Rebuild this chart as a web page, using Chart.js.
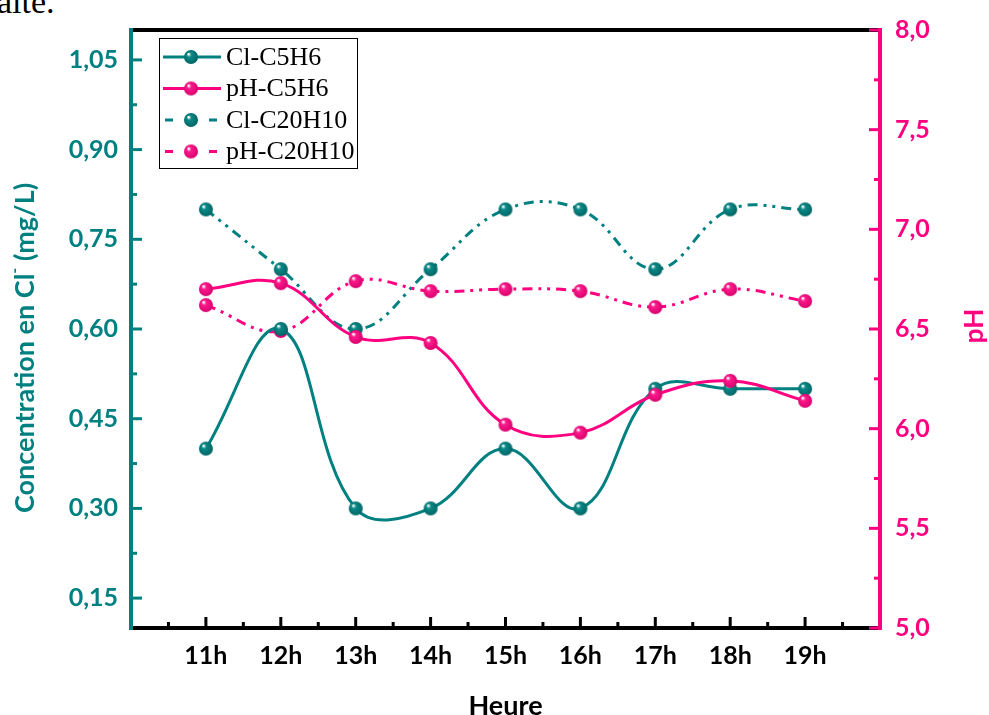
<!DOCTYPE html>
<html>
<head>
<meta charset="utf-8">
<script src="https://cdn.jsdelivr.net/npm/chart.js@4.4.1/dist/chart.umd.min.js"></script>
<style>
body { margin: 0; background: #fff; overflow: hidden; }
#wrap { position: relative; width: 989px; height: 715px; overflow: hidden; }
#cut { position: absolute; left: -3px; top: -17px; font: 34px "Liberation Serif", serif; color: #000; }
canvas { position: absolute; left: 0; top: 0; }
</style>
</head>
<body>
<div id="wrap">
<div id="cut">aite.</div>
<canvas id="chart" width="989" height="715"></canvas>
</div>
<script>
var hours = ['11h', '12h', '13h', '14h', '15h', '16h', '17h', '18h', '19h'];
var clC5H6 = [0.40, 0.60, 0.30, 0.30, 0.40, 0.30, 0.50, 0.50, 0.50];
var phC5H6 = [6.70, 6.73, 6.46, 6.43, 6.02, 5.98, 6.17, 6.24, 6.14];
var clC20H10 = [0.80, 0.70, 0.60, 0.70, 0.80, 0.80, 0.70, 0.80, 0.80];
var phC20H10 = [6.62, 6.49, 6.74, 6.69, 6.70, 6.69, 6.61, 6.70, 6.64];
var clTicks = [0.15, 0.30, 0.45, 0.60, 0.75, 0.90, 1.05];
var phTicks = [5.0, 5.5, 6.0, 6.5, 7.0, 7.5, 8.0];

var TEAL = '#008080';
var PINK = '#ff0080';
var FONT = 'Lato';
var dashDotDot = [10, 6, 3, 6, 3, 6];

// little shaded balls for the markers
function ball(color, dark) {
    var r = 7, c = document.createElement('canvas');
    c.width = c.height = 2 * r + 2;
    var g = c.getContext('2d');
    var grad = g.createRadialGradient(r - 1.5, r - 2, 0.5, r + 1, r + 1, r + 1);
    grad.addColorStop(0, '#ffffff');
    grad.addColorStop(0.25, color);
    grad.addColorStop(1, dark);
    g.fillStyle = grad;
    g.beginPath();
    g.arc(r + 1, r + 1, r, 0, Math.PI * 2);
    g.fill();
    return c;
}
var tealBall = ball('#0a8a88', '#006060');
var pinkBall = ball('#ff1a8c', '#d00068');

function pts(vals) {
    return vals.map(function (v, i) { return { x: i, y: v }; });
}
function fmt(v, d) {
    return v.toFixed(d).replace('.', ',');
}
function mids(arr) {
    var out = [];
    for (var i = 0; i < arr.length - 1; i++) out.push((arr[i] + arr[i + 1]) / 2);
    return out;
}

var series = [
    { label: 'Cl-C5H6', data: clC5H6, axis: 'yCl', color: TEAL, img: tealBall, dash: [], order: 2 },
    { label: 'pH-C5H6', data: phC5H6, axis: 'yPH', color: PINK, img: pinkBall, dash: [], order: 1 },
    { label: 'Cl-C20H10', data: clC20H10, axis: 'yCl', color: TEAL, img: tealBall, dash: dashDotDot, order: 4 },
    { label: 'pH-C20H10', data: phC20H10, axis: 'yPH', color: PINK, img: pinkBall, dash: dashDotDot, order: 3 }
];

function line(ctx, x1, y1, x2, y2, color, w) {
    ctx.strokeStyle = color;
    ctx.lineWidth = w;
    ctx.beginPath();
    ctx.moveTo(x1, y1);
    ctx.lineTo(x2, y2);
    ctx.stroke();
}

var frame = {
    id: 'frame',
    afterDraw: function (chart) {
        var ctx = chart.ctx, a = chart.chartArea;
        var sx = chart.scales.x, sc = chart.scales.yCl, sp = chart.scales.yPH;
        ctx.save();
        ctx.lineCap = 'butt';

        // top and bottom
        line(ctx, a.left, a.top, a.right, a.top, '#000', 4);
        line(ctx, a.left, a.bottom, a.right, a.bottom, '#000', 4);
        hours.forEach(function (h, i) {
            var px = sx.getPixelForValue(i);
            line(ctx, px, a.bottom, px, a.bottom - 11, '#000', 3);
        });
        for (var m = -0.5; m < hours.length; m++) {
            var mx = sx.getPixelForValue(m);
            line(ctx, mx, a.bottom, mx, a.bottom - 6, '#000', 3);
        }

        // left axis
        line(ctx, a.left, a.top - 2, a.left, a.bottom + 2, TEAL, 4);
        clTicks.forEach(function (v) {
            var py = sc.getPixelForValue(v);
            line(ctx, a.left, py, a.left + 11, py, TEAL, 3);
        });
        mids(clTicks).forEach(function (v) {
            var py = sc.getPixelForValue(v);
            line(ctx, a.left, py, a.left + 6, py, TEAL, 3);
        });

        // right axis
        line(ctx, a.right, a.top - 2, a.right, a.bottom + 2, PINK, 4);
        phTicks.forEach(function (v) {
            var py = sp.getPixelForValue(v);
            line(ctx, a.right, py, a.right - 11, py, PINK, 3);
        });
        mids(phTicks).forEach(function (v) {
            var py = sp.getPixelForValue(v);
            line(ctx, a.right, py, a.right - 6, py, PINK, 3);
        });

        // axis titles
        ctx.textBaseline = 'middle';
        ctx.font = 'bold 27px ' + FONT;
        ctx.fillStyle = '#000';
        ctx.textAlign = 'center';
        ctx.fillText('Heure', (a.left + a.right) / 2, 706);

        ctx.save();
        ctx.translate(975, 326);
        ctx.rotate(-Math.PI / 2);
        ctx.fillStyle = PINK;
        ctx.font = 'bold 26px ' + FONT;
        ctx.fillText('pH', 0, 0);
        ctx.restore();

        ctx.save();
        ctx.translate(25, 348);
        ctx.rotate(-Math.PI / 2);
        ctx.fillStyle = TEAL;
        ctx.textAlign = 'left';
        var p1 = 'Concentration en Cl', p2 = '-', p3 = ' (mg/L)';
        ctx.font = 'bold 27px ' + FONT;
        var w1 = ctx.measureText(p1).width, w3 = ctx.measureText(p3).width;
        ctx.font = 'bold 16px ' + FONT;
        var w2 = ctx.measureText(p2).width;
        var x0 = -(w1 + w2 + w3) / 2;
        ctx.font = 'bold 27px ' + FONT;
        ctx.fillText(p1, x0, 0);
        ctx.font = 'bold 16px ' + FONT;
        ctx.fillText(p2, x0 + w1, -10);
        ctx.font = 'bold 27px ' + FONT;
        ctx.fillText(p3, x0 + w1 + w2, 0);
        ctx.restore();

        // legend
        var lx = 159, ly = 38, lw = 198, lh = 130;
        ctx.fillStyle = '#fff';
        ctx.fillRect(lx, ly, lw, lh);
        ctx.strokeStyle = '#000';
        ctx.lineWidth = 1;
        ctx.strokeRect(lx + 0.5, ly + 0.5, lw, lh);
        ctx.font = '26px "Liberation Serif"';
        ctx.textAlign = 'left';
        series.forEach(function (s, i) {
            var yy = 57 + i * 31.5;
            ctx.save();
            ctx.setLineDash(s.dash.length ? [8, 14] : []);
            ctx.lineDashOffset = s.dash.length ? -2 : 0;
            line(ctx, 163, yy, 221, yy, s.color, 3);
            ctx.restore();
            ctx.drawImage(s.img, 191 - s.img.width / 2, yy - s.img.height / 2);
            ctx.fillStyle = '#000';
            ctx.fillText(s.label, 226, yy + 1);
        });
        ctx.restore();
    }
};

var tickFont = { family: FONT, weight: 'bold', size: 25 };

new Chart(document.getElementById('chart'), {
    type: 'line',
    data: {
        datasets: series.map(function (s) {
            return {
                label: s.label,
                data: pts(s.data),
                yAxisID: s.axis,
                borderColor: s.color,
                backgroundColor: s.color,
                borderWidth: 3,
                borderDash: s.dash,
                tension: 0.4,
                pointStyle: s.img,
                pointRadius: 7,
                order: s.order,
                fill: false
            };
        })
    },
    options: {
        responsive: false,
        animation: false,
        events: [],
        layout: { padding: { top: 25, left: 0, right: 0, bottom: 0 } },
        plugins: { legend: { display: false }, tooltip: { enabled: false } },
        scales: {
            x: {
                type: 'linear',
                min: -1,
                max: hours.length,
                bounds: 'data',
                afterFit: function (s) { s.height = 87; },
                afterBuildTicks: function (s) {
                    s.ticks = hours.map(function (h, i) { return { value: i }; });
                },
                ticks: {
                    callback: function (v) { return hours[v]; },
                    color: '#000',
                    font: tickFont,
                    padding: 13,
                    maxRotation: 0,
                    autoSkip: false
                },
                grid: { display: false, drawTicks: false },
                border: { display: false }
            },
            yCl: {
                type: 'linear',
                position: 'left',
                min: 0.1,
                max: 1.1,
                bounds: 'data',
                afterFit: function (s) { s.width = 131; },
                afterBuildTicks: function (s) {
                    s.ticks = clTicks.map(function (v) { return { value: v }; });
                },
                ticks: {
                    callback: function (v) { return fmt(v, 2); },
                    color: TEAL,
                    font: tickFont,
                    padding: 13
                },
                grid: { display: false, drawTicks: false },
                border: { display: false }
            },
            yPH: {
                type: 'linear',
                position: 'right',
                min: 5,
                max: 8,
                bounds: 'data',
                afterFit: function (s) { s.width = 109; },
                afterBuildTicks: function (s) {
                    s.ticks = phTicks.map(function (v) { return { value: v }; });
                },
                ticks: {
                    callback: function (v) { return fmt(v, 1); },
                    color: PINK,
                    font: tickFont,
                    padding: 15
                },
                grid: { display: false, drawTicks: false },
                border: { display: false }
            }
        }
    },
    plugins: [frame]
});
</script>
</body>
</html>
